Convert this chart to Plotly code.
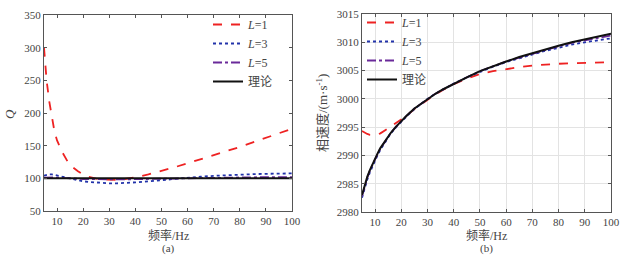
import plotly.graph_objects as go

freq = [5, 6, 7, 8, 9, 10, 11, 12, 14, 16, 18, 20, 22, 25, 28, 30, 33, 36, 40, 45,
        50, 55, 60, 65, 70, 75, 80, 85, 90, 95, 100]

q_L1 = [300, 250, 218, 192, 172, 158, 148, 140, 126, 117, 111, 106, 102.5, 99.5, 98, 97.5,
        97.8, 99, 101.5, 106, 111, 117, 123, 129, 135, 141.5, 148, 155, 162, 169, 176]
q_L3 = [104, 105.5, 106, 106, 105.5, 104.5, 103.5, 102.5, 100.5, 98.5, 97, 95.5, 94.5, 93.3,
        92.6, 92.4, 92.4, 92.8, 93.8, 95.5, 97.5, 99.5, 101, 102.5, 103.8, 105, 105.8, 106.4,
        106.9, 107.3, 107.6]
q_L5 = [101, 101.5, 101.5, 101.5, 101.3, 101, 100.8, 100.5, 100, 99.6, 99.3, 99, 98.8, 98.5,
        98.4, 98.3, 98.3, 98.4, 98.7, 99.1, 99.5, 100, 100.5, 100.9, 101.2, 101.4, 101.6,
        101.8, 101.9, 102, 102]
q_theory = [100] * len(freq)

v_theory = [2983.0, 2984.7, 2986.2, 2987.4, 2988.5, 2989.5, 2990.4, 2991.3, 2992.7, 2994.0,
            2995.1, 2996.1, 2997.0, 2998.3, 2999.3, 3000.0, 3000.9, 3001.7, 3002.7, 3003.8,
            3004.9, 3005.8, 3006.6, 3007.4, 3008.1, 3008.8, 3009.4, 3010.0, 3010.5, 3011.0,
            3011.5]
v_L1 = [2994.3, 2994.0, 2993.8, 2993.65, 2993.6, 2993.6, 2993.7, 2993.9, 2994.5, 2995.1,
        2995.7, 2996.3, 2997.0, 2998.2, 2999.2, 2999.9, 3000.8, 3001.6, 3002.6, 3003.6,
        3004.4, 3004.9, 3005.3, 3005.6, 3005.9, 3006.1, 3006.2, 3006.3, 3006.4, 3006.45,
        3006.5]
v_L3 = [2982.5, 2984.2, 2985.7, 2987.0, 2988.1, 2989.1, 2990.1, 2991.0, 2992.5, 2993.9,
        2995.0, 2996.0, 2996.9, 2998.2, 2999.3, 3000.0, 3000.9, 3001.7, 3002.7, 3003.8,
        3004.8, 3005.7, 3006.5, 3007.2, 3007.9, 3008.5, 3009.0, 3009.6, 3010.0, 3010.4,
        3010.7]
v_L5 = [2982.8, 2984.5, 2986.0, 2987.3, 2988.4, 2989.4, 2990.3, 2991.2, 2992.6, 2994.0,
        2995.1, 2996.1, 2997.0, 2998.3, 2999.3, 3000.0, 3000.9, 3001.7, 3002.7, 3003.8,
        3004.9, 3005.8, 3006.6, 3007.3, 3008.0, 3008.7, 3009.3, 3009.9, 3010.3, 3010.8,
        3011.2]

x_ticks = [10, 20, 30, 40, 50, 60, 70, 80, 90, 100]
q_ticks = [50, 100, 150, 200, 250, 300, 350]
v_ticks = [2980, 2985, 2990, 2995, 3000, 3005, 3010, 3015]

names = ["<i>L</i>=1", "<i>L</i>=3", "<i>L</i>=5", "理论"]
styles = [dict(color="#ee2222", dash="dash", width=1.8),
          dict(color="#2233aa", dash="dot", width=1.8),
          dict(color="#6a2a9a", dash="dashdot", width=1.8),
          dict(color="#111111", dash="solid", width=2)]

FONT = "'Liberation Serif', 'Noto Sans CJK SC', serif"
TXT = "#444444"

fig = go.Figure()
for nm, st, ys in zip(names, styles, [q_L1, q_L3, q_L5, q_theory]):
    fig.add_trace(go.Scatter(x=freq, y=ys, mode="lines", name=nm, line=st,
                             xaxis="x", yaxis="y", legend="legend"))
for nm, st, ys in zip(names, styles, [v_L1, v_L3, v_L5, v_theory]):
    fig.add_trace(go.Scatter(x=freq, y=ys, mode="lines", name=nm, line=st,
                             xaxis="x2", yaxis="y2", legend="legend2"))

ax_common = dict(showline=True, linecolor="#555555", linewidth=1, mirror="ticks",
                 ticks="inside", ticklen=3, tickcolor="#555555", zeroline=False,
                 automargin=False,
                 tickfont=dict(size=11, color=TXT, family=FONT))

W, H = 626, 255


def ann(text, x, y, size=12, angle=0):
    return dict(text=text, x=x / W, y=1 - y / H, xref="paper", yref="paper",
                xanchor="center", yanchor="middle", showarrow=False, textangle=angle,
                font=dict(size=size, color=TXT, family=FONT))


fig.update_layout(
    width=W, height=H,
    margin=dict(l=0, r=0, t=0, b=0, pad=0, autoexpand=False),
    paper_bgcolor="white", plot_bgcolor="white",
    font=dict(family=FONT, size=11, color=TXT),
    xaxis=dict(domain=[44 / W, 292 / W], range=[5, 100], tickvals=x_ticks, showgrid=False,
               anchor="y", **ax_common),
    yaxis=dict(domain=[1 - 211 / H, 1 - 15 / H], range=[50, 350], tickvals=q_ticks, showgrid=False,
               anchor="x", **ax_common),
    xaxis2=dict(domain=[362 / W, 611 / W], range=[5, 100], tickvals=x_ticks, showgrid=True,
                gridcolor="#e3e3e3", gridwidth=1, anchor="y2", **ax_common),
    yaxis2=dict(domain=[1 - 212 / H, 1 - 14 / H], range=[2980, 3015], tickvals=v_ticks, showgrid=True,
                gridcolor="#e3e3e3", gridwidth=1, anchor="x2", **ax_common),
    legend=dict(x=208 / W, y=1 - 10 / H, xanchor="left", yanchor="top",
                bgcolor="rgba(0,0,0,0)", tracegroupgap=0, itemwidth=30,
                font=dict(size=12, color=TXT, family=FONT)),
    legend2=dict(x=362 / W, y=1 - 8 / H, xanchor="left", yanchor="top",
                 bgcolor="rgba(0,0,0,0)", tracegroupgap=0, itemwidth=30,
                 font=dict(size=12, color=TXT, family=FONT)),
    annotations=[
        ann("频率/Hz", 168, 235, size=12),
        ann("频率/Hz", 486, 235, size=12),
        ann("(a)", 168, 248, size=11),
        ann("(b)", 486, 248, size=11),
        ann("<i>Q</i>", 10, 114, size=13, angle=-90),
        ann("相速度/(m·s<sup>-1</sup>)", 322, 113, size=13, angle=-90),
    ],
)

fig.write_html("out.html", config={"displayModeBar": False},
               post_script="document.body.style.margin='0px';document.body.style.overflow='hidden';")
